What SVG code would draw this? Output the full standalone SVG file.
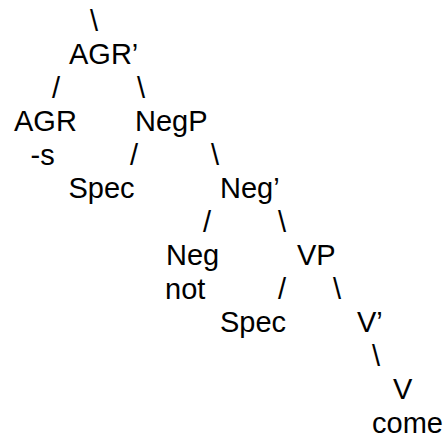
<svg xmlns="http://www.w3.org/2000/svg" width="444" height="437" viewBox="0 0 444 437">
<style>
text { font-family: "Liberation Sans", Arial, sans-serif; font-size: 29px; fill: #000; }
</style>
<rect width="444" height="437" fill="#fff"/>
<g id="connectors">
<text x="90" y="30.5">\</text>
<text x="52" y="97.5">/</text>
<text x="137" y="97.5">\</text>
<text x="130" y="164.5">/</text>
<text x="211" y="164.5">\</text>
<text x="203" y="231.5">/</text>
<text x="278" y="231.5">\</text>
<text x="278" y="298.5">/</text>
<text x="333" y="298.5">\</text>
<text x="372" y="365.5">\</text>
</g>
<g id="node-agrbar"><text x="69" y="64">AGR’</text></g>
<g id="node-agr"><text x="14" y="131">AGR</text><text x="30.5" y="164.5">-s</text></g>
<g id="node-negp"><text x="135" y="131">NegP</text></g>
<g id="node-spec1"><text x="68.5" y="198">Spec</text></g>
<g id="node-negbar"><text x="220" y="198">Neg’</text></g>
<g id="node-neg"><text x="166" y="265">Neg</text><text x="165" y="298.5">not</text></g>
<g id="node-vp"><text x="297" y="265">VP</text></g>
<g id="node-spec2"><text x="220" y="332">Spec</text></g>
<g id="node-vbar"><text x="357" y="332">V’</text></g>
<g id="node-v"><text x="393" y="399">V</text><text x="372" y="432.5">come</text></g>
</svg>
